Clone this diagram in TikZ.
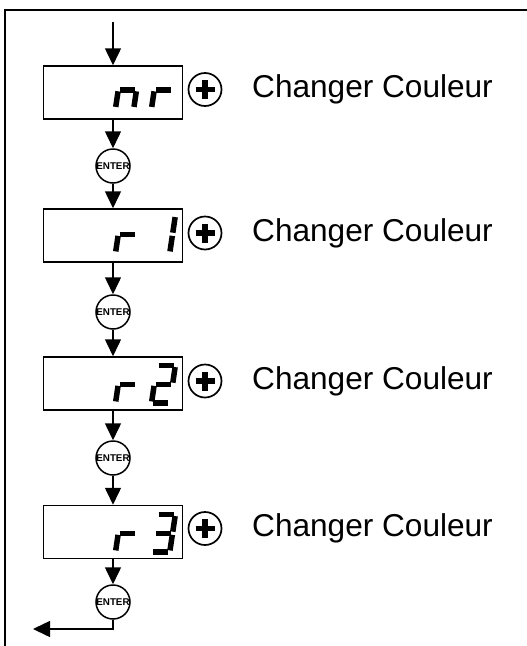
\documentclass[tikz,border=0pt]{standalone}
\usepackage{fontspec}
\setmainfont{Liberation Sans}
\usetikzlibrary{arrows.meta,calc}
\tikzset{
  segline/.style={line width=5.5pt, line cap=butt, shorten <=1.6pt, shorten >=1.6pt},
  dispbox/.style={draw, line width=1.5pt, minimum width=139pt, minimum height=53pt, inner sep=0pt},
  enterbtn/.style={draw, circle, line width=1.5pt, minimum size=34pt, inner sep=0pt,
    font=\bfseries\fontsize{9.8}{10}\selectfont, fill=white},
  plusbtn/.style={draw, circle, line width=1.7pt, minimum size=33pt, inner sep=0pt},
  plusbar/.style={line width=5.5pt},
  flow/.style={line width=1.5pt, -{Triangle[width=16pt,length=17pt]}},
  label/.style={anchor=west, inner sep=0pt, font=\fontsize{31.6}{36}\selectfont}
}
\newcommand\sgA{\draw[segline] (0,37.5)--(18.25,37.5);}
\newcommand\sgB{\draw[segline] (18.25,37.5)--(18.25,18.75);}
\newcommand\sgC{\draw[segline] (18.25,18.75)--(18.25,0);}
\newcommand\sgD{\draw[segline] (0,0)--(18.25,0);}
\newcommand\sgE{\draw[segline] (0,18.75)--(0,0);}
\newcommand\sgF{\draw[segline] (0,37.5)--(0,18.75);}
\newcommand\sgG{\draw[segline] (0,18.75)--(18.25,18.75);}
\newcommand\plussign[1]{\draw[plusbar] ($(#1)+(-9.5,0)$) -- ($(#1)+(9.5,0)$) ($(#1)+(0,-9.5)$) -- ($(#1)+(0,9.5)$);}
\begin{document}
\begin{tikzpicture}[x=1pt, y=-1pt]
\useasboundingbox (0,0) rectangle (527,646);
% frame
\draw[line width=2pt] (527,10) -- (5,10) -- (5,646);

% displays
\node[dispbox] (b1) at (113,92.5) {};
\node[dispbox] (b2) at (113,235.5) {};
\node[dispbox] (b3) at (113,383.5) {};
\node[dispbox] (b4) at (113,532) {};

% digits box 1 : n r
\begin{scope}[shift={(115.5,108.5)}, x={(1pt,0pt)}, y={(0.15pt,1pt)}]
 \sgE \sgG \sgC
\end{scope}
\begin{scope}[shift={(151.5,108.5)}, x={(1pt,0pt)}, y={(0.15pt,1pt)}]
 \sgE \sgG
\end{scope}
% box 2 : r 1
\begin{scope}[shift={(115.5,253)}, x={(1pt,0pt)}, y={(0.15pt,1pt)}]
 \sgE \sgG
\end{scope}
\begin{scope}[shift={(151.5,253)}, x={(1pt,0pt)}, y={(0.15pt,1pt)}]
 \sgB \sgC
\end{scope}
% box 3 : r 2
\begin{scope}[shift={(115.5,403)}, x={(1pt,0pt)}, y={(0.15pt,1pt)}]
 \sgE \sgG
\end{scope}
\begin{scope}[shift={(151.5,403)}, x={(1pt,0pt)}, y={(0.15pt,1pt)}]
 \sgA \sgB \sgG \sgE \sgD
\end{scope}
% box 4 : r 3
\begin{scope}[shift={(115.5,552)}, x={(1pt,0pt)}, y={(0.15pt,1pt)}]
 \sgE \sgG
\end{scope}
\begin{scope}[shift={(151.5,552)}, x={(1pt,0pt)}, y={(0.15pt,1pt)}]
 \sgA \sgB \sgG \sgC \sgD
\end{scope}

% plus buttons
\node[plusbtn] (p1) at (205,89.5) {};
\node[plusbtn] (p2) at (205,233) {};
\node[plusbtn] (p3) at (205,381) {};
\node[plusbtn] (p4) at (205,528.5) {};
\plussign{p1}
\plussign{p2}
\plussign{p3}
\plussign{p4}

% labels
\node[label] (t1) at (252,89.5) {Changer Couleur};
\node[label] (t2) at (252,233) {Changer Couleur};
\node[label] (t3) at (252,381) {Changer Couleur};
\node[label] (t4) at (252,528.5) {Changer Couleur};

% enter buttons
\node[enterbtn] (e1) at (113,166) {ENTER};
\node[enterbtn] (e2) at (113,312) {ENTER};
\node[enterbtn] (e3) at (113,458) {ENTER};
\node[enterbtn] (e4) at (113,602) {ENTER};

% connectors
\coordinate (start) at (113,22);
\coordinate (bend) at (113,629);
\coordinate (exit) at (33,629);
\draw[flow] (start) -- (b1.north);
\draw[flow] (b1.south) -- (e1.north);
\draw[flow] (e1.south) -- (b2.north);
\draw[flow] (b2.south) -- (e2.north);
\draw[flow] (e2.south) -- (b3.north);
\draw[flow] (b3.south) -- (e3.north);
\draw[flow] (e3.south) -- (b4.north);
\draw[flow] (b4.south) -- (e4.north);
\draw[flow] (e4.south) -- (bend) -- (exit);
\end{tikzpicture}
\end{document}
